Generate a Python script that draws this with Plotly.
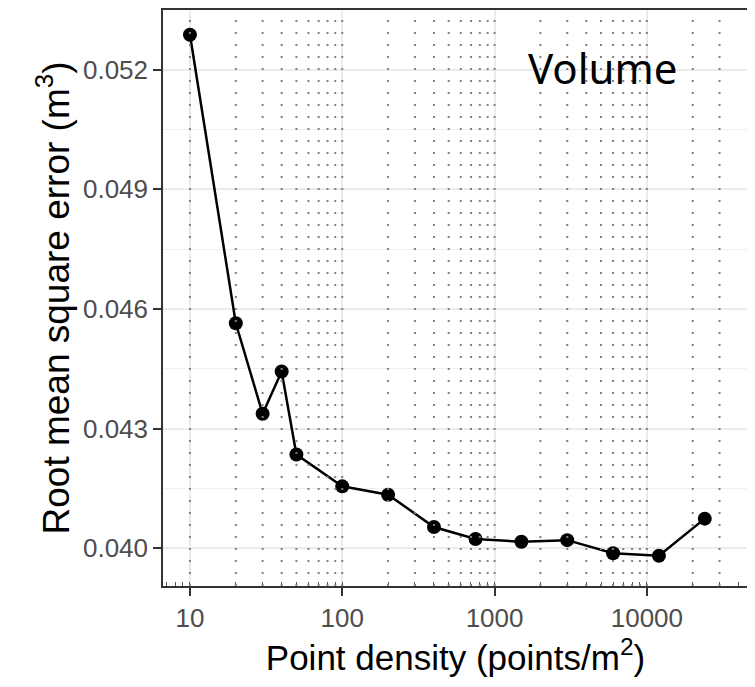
import plotly.graph_objects as go

# point density (points/m2) and RMSE of volume (m3)
density = [10, 20, 30, 40, 50, 100, 200, 400, 750, 1500, 3000, 6000, 12000, 24000]
rmse = [0.05288, 0.04564, 0.04337, 0.04443, 0.04235, 0.04155, 0.04134,
        0.04053, 0.04023, 0.04016, 0.04020, 0.03987, 0.03981, 0.04074]

# dotted reference lines at 1..9 x 10^k
ref_lines = [10, 20, 30, 40, 50, 60, 70, 80, 90,
             100, 200, 300, 400, 500, 600, 700, 800, 900,
             1000, 2000, 3000, 4000, 5000, 6000, 7000, 8000, 9000,
             10000, 20000, 30000]

x_ticks = [10, 100, 1000, 10000]
y_ticks = [0.040, 0.043, 0.046, 0.049, 0.052]

fig = go.Figure()
fig.add_trace(go.Scatter(x=density, y=rmse, mode='lines+markers',
                         line=dict(color='black', width=2.5),
                         marker=dict(color='black', size=14),
                         showlegend=False))

for v in ref_lines:
    fig.add_shape(type='line', xref='x', yref='paper', x0=v, x1=v, y0=0, y1=1,
                  line=dict(color='#808080', width=2, dash='2px,10px'))

fig.add_annotation(text='Volume', xref='paper', yref='paper', x=0.752, y=0.90,
                   xanchor='center', yanchor='middle', showarrow=False,
                   font=dict(family='Noto Sans', size=42, color='black'))

fig.update_xaxes(type='log', range=[0.823, 4.664],
                 tickvals=x_ticks, ticktext=[str(v) for v in x_ticks],
                 ticks='outside', ticklen=8, tickwidth=1.5, tickcolor='#333333',
                 showgrid=True, gridcolor='#ebebeb', gridwidth=1.5,
                 showline=True, mirror=True, linecolor='#333333', linewidth=1.5,
                 tickfont=dict(family='Liberation Sans', size=26, color='#4d4d4d'),
                 minor=dict(ticks='inside', ticklen=4, tickwidth=1, tickcolor='#555555',
                            dtick='D1', showgrid=False),
                 title=dict(text='Point density (points/m<sup>2</sup>)', standoff=10,
                            font=dict(family='Liberation Sans', size=35, color='black')),
                 zeroline=False)
fig.update_yaxes(range=[0.03905, 0.0535],
                 tickvals=y_ticks, ticktext=['%.3f' % v for v in y_ticks],
                 ticks='outside', ticklen=8, tickwidth=1.5, tickcolor='#333333',
                 showgrid=True, gridcolor='#ebebeb', gridwidth=1.5,
                 minor=dict(tick0=0.0415, dtick=0.003, showgrid=True,
                            gridcolor='#f0f0f0', gridwidth=0.8),
                 showline=True, mirror=True, linecolor='#333333', linewidth=1.5,
                 tickfont=dict(family='Liberation Sans', size=26, color='#4d4d4d'),
                 title=dict(text='Root mean square error (m<sup>3</sup>)', standoff=2,
                            font=dict(family='Liberation Sans', size=37, color='black')),
                 zeroline=False)

fig.update_layout(width=747, height=679, margin=dict(l=155, r=7, t=0, b=101),
                  plot_bgcolor='white', paper_bgcolor='white')
fig.write_html("out.html")
